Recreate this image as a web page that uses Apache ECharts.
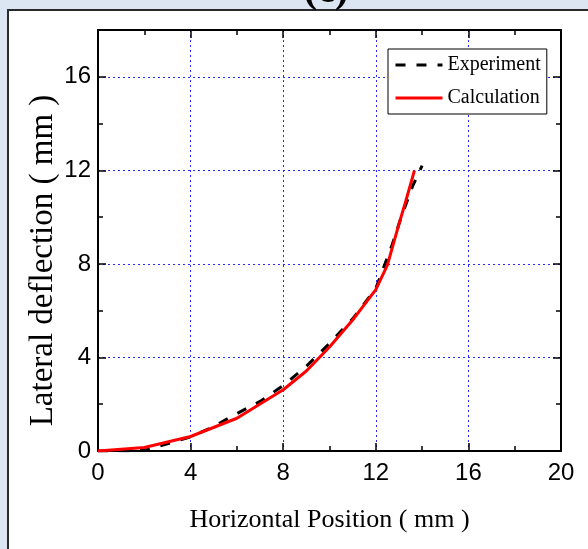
<!DOCTYPE html>
<html>
<head>
<meta charset="utf-8">
<script src="https://cdn.jsdelivr.net/npm/echarts@6/dist/echarts.min.js"></script>
<style>
html,body{margin:0;padding:0;background:#dce6f2;}
#chart{width:588px;height:549px;}
</style>
</head>
<body>
<div id="chart"></div>
<script>
// Data
const calcX = [0, 2, 4, 6, 8, 9, 10, 11, 12, 12.5, 13, 13.3, 13.67];
const calcY = [0, 0.15, 0.62, 1.4, 2.62, 3.42, 4.45, 5.6, 6.9, 7.95, 9.7, 10.7, 12.0];
const expX = [0, 2, 4, 5, 6, 7, 8, 9, 10, 11, 12, 12.7, 13.1, 13.6, 14.0];
const expY = [0, 0.02, 0.6, 1.05, 1.6, 2.12, 2.8, 3.62, 4.6, 5.65, 6.95, 8.8, 10.0, 11.35, 12.2];
const seriesNames = ['Experiment', 'Calculation'];
const xTitle = 'Horizontal Position ( mm )';
const yTitle = 'Lateral deflection ( mm )';
const panelTag = '(c)';

const pair = (xs, ys) => xs.map((x, i) => [x, ys[i]]);

const numFont = "'Liberation Sans Narrow', 'Arial Narrow', 'Liberation Sans', sans-serif";
const serif = "'Liberation Serif', 'Times New Roman', serif";
const gridLine = { show: true, lineStyle: { color: '#2a2aff', width: 1, type: [2, 3] } };
const axisLine = { show: true, onZero: false, lineStyle: { color: '#000', width: 2 } };

function xAx(pos, labels) {
  return {
    type: 'value', position: pos, min: 0, max: 20, interval: 4,
    axisLine: axisLine,
    axisTick: { show: true, inside: true, length: 8, lineStyle: { color: '#000', width: 1.5 } },
    minorTick: { show: true, splitNumber: 2, length: 5, lineStyle: { color: '#000', width: 1.5 } },
    axisLabel: { show: labels, fontFamily: numFont, fontSize: 24, color: '#000', margin: 10 },
    splitLine: labels ? gridLine : { show: false },
    minorSplitLine: { show: false }
  };
}
function yAx(pos, major, labels) {
  return {
    type: 'value', position: pos, min: 0, max: 18, interval: major ? 4 : 2,
    axisLine: axisLine,
    axisTick: { show: true, inside: true, length: major ? 8 : 5, lineStyle: { color: '#000', width: 1.5 } },
    axisLabel: { show: labels, showMaxLabel: false, fontFamily: numFont, fontSize: 24, color: '#000', margin: 7 },
    splitLine: labels ? gridLine : { show: false }
  };
}

const xAxes = [xAx('bottom', true), xAx('top', false)];
xAxes[0].name = xTitle;
xAxes[0].nameLocation = 'middle';
xAxes[0].nameGap = 56;
xAxes[0].nameTextStyle = { fontFamily: serif, fontSize: 26, color: '#000' };

const yAxes = [yAx('left', true, true), yAx('left', false, false), yAx('right', true, false), yAx('right', false, false)];
yAxes[0].name = yTitle;
yAxes[0].nameLocation = 'middle';
yAxes[0].nameGap = 38;
yAxes[0].nameMoveOverlap = false;
yAxes[0].nameTextStyle = { fontFamily: serif, fontSize: 33, color: '#000', padding: [0, 40, 0, 0] };

const chart = echarts.init(document.getElementById('chart'), null, { renderer: 'canvas' });
chart.setOption({
  backgroundColor: '#dce6f2',
  animation: false,
  grid: { left: 98, right: 27, top: 30, bottom: 98, containLabel: false },
  graphic: [
    { type: 'rect', z: -10, shape: { x: 8, y: 10, width: 600, height: 560 },
      style: { fill: '#ffffff', stroke: '#2a2a2a', lineWidth: 2 } },
    { type: 'text', z: 10, x: 326, y: 12,
      style: { text: panelTag, fontFamily: serif, fontWeight: 'bold', fontSize: 40, fill: '#000',
               align: 'center', verticalAlign: 'bottom' } }
  ],
  legend: {
    orient: 'vertical', left: 388, top: 49,
    backgroundColor: '#fff', borderColor: '#000', borderWidth: 1,
    padding: [6, 6, 6, 6], itemWidth: 47, itemHeight: 20, itemGap: 13,
    itemStyle: { opacity: 0 },
    lineStyle: { width: 3 },
    textStyle: { fontFamily: serif, fontSize: 20, color: '#000' },
    data: seriesNames
  },
  xAxis: xAxes,
  yAxis: yAxes,
  series: [
    { name: seriesNames[0], type: 'line', data: pair(expX, expY), symbol: 'none',
      lineStyle: { color: '#000', width: 3, type: [10, 11] }, itemStyle: { color: '#000' }, z: 3 },
    { name: seriesNames[1], type: 'line', data: pair(calcX, calcY), symbol: 'none',
      lineStyle: { color: '#ff0000', width: 3 }, itemStyle: { color: '#ff0000' }, z: 4 }
  ]
});
</script>
</body>
</html>
